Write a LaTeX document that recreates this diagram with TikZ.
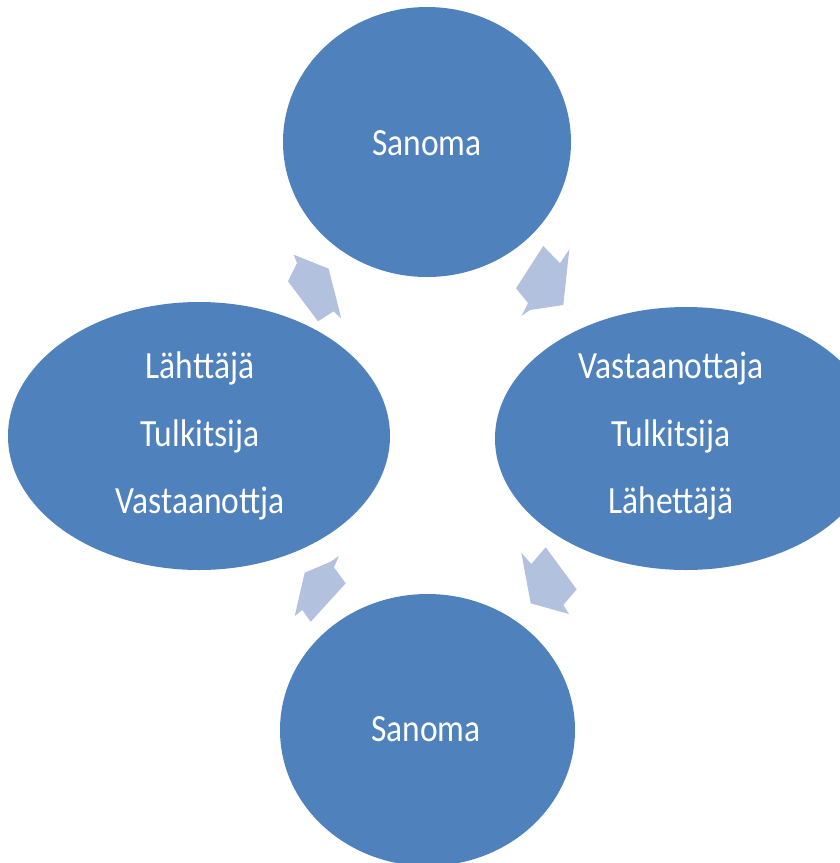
\documentclass[tikz,border=0pt]{standalone}
\usepackage{fontspec}
\newfontfamily\labelfont[FakeStretch=0.87]{Carlito}
\usetikzlibrary{shapes.geometric}
\definecolor{cyclefill}{RGB}{79,129,189}
\definecolor{arrowfill}{RGB}{178,193,221}
\begin{document}
\begin{tikzpicture}[x=1pt,y=-1pt,
  bubble/.style={ellipse, fill=cyclefill, draw=none, inner sep=0pt},
  caption/.style={text=white, font=\labelfont\fontsize{38.5}{46}\selectfont, anchor=base, inner sep=0pt},
  cyclearrow/.style={fill=arrowfill, draw=none}]
\useasboundingbox (0,0) rectangle (840,863);
\clip (0,0) rectangle (840,863);

% the four stages of the cycle
\node[bubble, minimum width=288pt, minimum height=270pt] (top) at (427,142) {};
\node[bubble, minimum width=382pt, minimum height=263pt] (right) at (686,438.5) {};
\node[bubble, minimum width=295pt, minimum height=272pt] (bottom) at (427.5,730) {};
\node[bubble, minimum width=382pt, minimum height=268pt] (left) at (199,436) {};

% labels
\node[caption] (topText) at (427,155) {Sanoma};
\node[caption] (bottomText) at (426,741.5) {Sanoma};
\node[caption] (leftA) at (200,378) {Lähttäjä};
\node[caption] (leftB) at (200,446.7) {Tulkitsija};
\node[caption] (leftC) at (200,513.3) {Vastaanottja};
\node[caption] (rightA) at (671,378.3) {Vastaanottaja};
\node[caption] (rightB) at (671,446.7) {Tulkitsija};
\node[caption] (rightC) at (671,513.3) {Lähettäjä};

% block arrows between the stages
\fill[cyclearrow] (293.7,254.7) -- (328.7,268.7) -- (341.3,318.7) -- (333.7,311.3)
  -- (318,321.3) -- (288,281.3) -- (297,263) -- cycle;
\fill[cyclearrow] (543.3,246) -- (560,263.3) -- (569.3,249.3) -- (563.3,305)
  -- (530,310) -- (521.7,315.7) -- (528,303) -- (516,288.3) -- cycle;
\fill[cyclearrow] (521.3,552.7) -- (531.3,564) -- (545.7,547.3) -- (576.7,589.3)
  -- (563.3,605) -- (569,614) -- (530.7,603.3) -- cycle;
\fill[cyclearrow] (339,556) -- (334,567.3) -- (345.7,583.3) -- (310.7,621.7)
  -- (302.3,610) -- (294.7,616) -- (304.7,572.7) -- (330.7,561.7) -- cycle;
\end{tikzpicture}
\end{document}
